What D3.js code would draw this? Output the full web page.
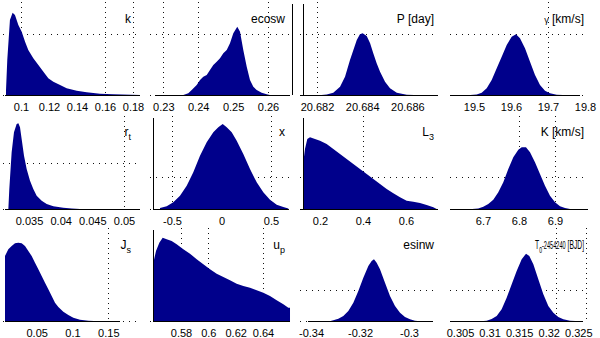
<!DOCTYPE html>
<html>
<head>
<meta charset="utf-8">
<script src="https://cdn.jsdelivr.net/npm/d3@7"></script>
<style>
  body { margin: 0; background: #fff; }
  svg { display: block; }
  text { font-family: "Liberation Sans", Arial, sans-serif; fill: #000; }
</style>
</head>
<body>
<svg id="chart" width="600" height="338"></svg>
<script>
// posterior histograms, [value, count] pairs (counts in arbitrary units)
const kHist = [[0.0893, 50], [0.0902, 350], [0.0921, 750], [0.0940, 823], [0.0957, 800], [0.0981, 700], [0.1005, 633], [0.1029, 533], [0.1052, 450], [0.1088, 367], [0.1124, 300], [0.1160, 233], [0.1195, 167], [0.1231, 133], [0.1279, 100], [0.1326, 67], [0.1398, 43], [0.1469, 27], [0.1564, 13], [0.1659, 7], [0.185, 0]];
const ecoswHist = [[0.23573, 0], [0.23716, 17], [0.23814, 50], [0.23957, 100], [0.24052, 150], [0.24146, 183], [0.24244, 200], [0.24338, 250], [0.24433, 300], [0.24530, 333], [0.24625, 367], [0.24719, 417], [0.24817, 450], [0.24911, 517], [0.25006, 617], [0.25120, 683], [0.25198, 633], [0.25292, 450], [0.25390, 283], [0.25484, 150], [0.25579, 83], [0.25676, 50], [0.25819, 23], [0.25963, 7], [0.2605, 0]];
const periodHist = [[20.6822, 0], [20.68243, 5], [20.68272, 23], [20.68302, 83], [20.68324, 183], [20.68346, 350], [20.68361, 450], [20.68376, 550], [20.68390, 607], [20.68402, 617], [20.68420, 590], [20.68435, 517], [20.68449, 417], [20.68464, 317], [20.68479, 233], [20.68501, 133], [20.68523, 67], [20.68553, 23], [20.68597, 3], [20.6863, 0]];
const gammaHist = [[19.49, 0], [19.5073, 5], [19.5208, 23], [19.5343, 67], [19.5478, 150], [19.5614, 267], [19.5749, 383], [19.5884, 500], [19.6019, 583], [19.6135, 607], [19.6243, 567], [19.6378, 467], [19.6514, 333], [19.6649, 200], [19.6784, 100], [19.6919, 43], [19.7054, 17], [19.7235, 3], [19.74, 0]];
const rtHist = [[0.03174, 0], [0.03189, 200], [0.03226, 567], [0.03263, 767], [0.03305, 850], [0.03332, 857], [0.03358, 817], [0.03384, 700], [0.03421, 533], [0.03463, 400], [0.03516, 283], [0.03568, 200], [0.03621, 133], [0.03700, 83], [0.03779, 50], [0.03884, 27], [0.04042, 13], [0.04174, 5], [0.04305, 0]];
const xHist = [[-0.6212, 10], [-0.5535, 27], [-0.4869, 67], [-0.4192, 133], [-0.3515, 233], [-0.2848, 367], [-0.2172, 533], [-0.1495, 667], [-0.0828, 767], [-0.0323, 817], [0.0121, 850], [0.0525, 817], [0.1030, 767], [0.1535, 683], [0.2202, 550], [0.2879, 400], [0.3556, 267], [0.4222, 167], [0.4899, 93], [0.5576, 43], [0.6242, 20], [0.6747, 5]];
const l3Hist = [[0.1223, 467], [0.1302, 600], [0.1409, 700], [0.1535, 717], [0.1767, 700], [0.2000, 683], [0.2310, 650], [0.2620, 600], [0.2930, 550], [0.3240, 500], [0.3550, 450], [0.3860, 400], [0.4171, 350], [0.4481, 300], [0.4791, 250], [0.5101, 200], [0.5411, 157], [0.5721, 117], [0.6031, 83], [0.6341, 73], [0.6651, 60], [0.6961, 40], [0.7271, 17], [0.7426, 0]];
const kAmpHist = [[6.67, 0], [6.6869, 5], [6.7008, 23], [6.7147, 50], [6.7286, 93], [6.7425, 167], [6.7564, 267], [6.7703, 400], [6.7842, 517], [6.7981, 593], [6.8075, 617], [6.8194, 617], [6.8306, 567], [6.8444, 467], [6.8583, 350], [6.8722, 233], [6.8861, 133], [6.9000, 67], [6.9139, 27], [6.9278, 10], [6.9417, 0]];
const jsHist = [[0.00573, 650], [0.01038, 717], [0.01504, 750], [0.01969, 777], [0.02434, 783], [0.02901, 777], [0.03366, 750], [0.03831, 700], [0.04297, 650], [0.04763, 583], [0.05228, 517], [0.05694, 450], [0.06159, 383], [0.06624, 317], [0.07091, 250], [0.07556, 183], [0.08021, 140], [0.08719, 93], [0.09418, 60], [0.10116, 33], [0.11047, 13], [0.12211, 3], [0.13, 0]];
const upHist = [[0.55976, 583], [0.56171, 700], [0.56414, 783], [0.56659, 833], [0.56951, 817], [0.57317, 800], [0.57683, 767], [0.58171, 717], [0.58659, 673], [0.59147, 617], [0.59634, 567], [0.60122, 517], [0.60610, 473], [0.61097, 440], [0.61585, 407], [0.62073, 373], [0.62561, 350], [0.63049, 333], [0.63537, 307], [0.64024, 283], [0.64512, 250], [0.65000, 207], [0.65488, 167], [0.65854, 133], [0.65976, 133]];
const esinwHist = [[-0.3320, 0], [-0.33089, 7], [-0.32884, 23], [-0.32680, 50], [-0.32476, 100], [-0.32272, 183], [-0.32068, 300], [-0.31864, 433], [-0.31660, 550], [-0.31524, 600], [-0.31429, 617], [-0.31320, 583], [-0.31184, 517], [-0.30980, 383], [-0.30776, 250], [-0.30571, 150], [-0.30367, 83], [-0.30163, 40], [-0.29959, 17], [-0.29755, 3], [-0.2965, 0]];
const t0Hist = [[0.3090, 0], [0.30951, 3], [0.31035, 20], [0.31120, 50], [0.31204, 117], [0.31289, 233], [0.31374, 367], [0.31458, 500], [0.31543, 617], [0.31616, 673], [0.31672, 650], [0.31740, 567], [0.31824, 417], [0.31909, 267], [0.31993, 150], [0.32078, 83], [0.32162, 40], [0.32247, 17], [0.32360, 3], [0.3245, 0]];

// tick labels
const kTicks = [0.1, 0.12, 0.14, 0.16, 0.18];
const ecoswTicks = [0.23, 0.24, 0.25, 0.26];
const periodTicks = [20.682, 20.684, 20.686];
const gammaTicks = [19.5, 19.6, 19.7, 19.8];
const rtTicks = [0.035, 0.04, 0.045, 0.05];
const xTicks = [-0.5, 0, 0.5];
const l3Ticks = [0.2, 0.4, 0.6];
const kAmpTicks = [6.7, 6.8, 6.9];
const jsTicks = [0.05, 0.1, 0.15];
const upTicks = [0.58, 0.6, 0.62, 0.64];
const esinwTicks = [-0.34, -0.32, -0.3];
const t0Ticks = [0.305, 0.31, 0.315, 0.32, 0.325];

const cols = [{l: 3, r: 140, tx: 131}, {l: 150, r: 289, tx: 285}, {l: 300, r: 438, tx: 434}, {l: 450, r: 588, tx: 584}];
const rows = [{top: 2, base: 95, ty: 23}, {top: 116, base: 209, ty: 136}, {top: 228, base: 321, ty: 249}];

const panels = [
  {hist: kHist, ticks: kTicks, grid: [0.1, 0.16, 0.18], level: 610, range: [0.0886, 0.185], dom: [0.1, 0.18], px: [21, 133], title: [["k"]]},
  {hist: ecoswHist, ticks: ecoswTicks, grid: [0.23, 0.24, 0.26], level: 610, range: [0.2276, 0.2663], dom: [0.23, 0.26], px: [163.3, 268], edge: "R", title: [["ecosw"]]},
  {hist: periodHist, ticks: periodTicks, grid: [20.682], level: 610, range: [20.68125, 20.68735], dom: [20.682, 20.686], px: [317, 407.4], edge: "L", title: [["P [day]"]]},
  {hist: gammaHist, ticks: gammaTicks, grid: [19.7], level: 610, range: [19.4351, 19.7865], dom: [19.5, 19.8], px: [474, 585], title: [["γ", "small"], [" [km/s]"]]},
  {hist: rtHist, ticks: rtTicks, grid: [0.05], level: 460, range: [0.03121, 0.05253], dom: [0.035, 0.05], px: [29, 124], title: [["r"], ["t", "sub"]]},
  {hist: xHist, ticks: xTicks, grid: [-0.5, 0.5], level: 320, range: [-0.692, 0.672], dom: [-0.5, 0.5], px: [172, 271], edge: "L", title: [["x"]]},
  {hist: l3Hist, ticks: l3Ticks, grid: [0.4], level: 320, range: [0.107, 0.749], dom: [0.2, 0.6], px: [320, 406], edge: "L", title: [["L"], ["3", "sub"]]},
  {hist: kAmpHist, ticks: kAmpTicks, grid: [6.8, 6.9], level: 320, range: [6.6083, 6.9917], dom: [6.8, 6.9], px: [519, 555], title: [["K [km/s]"]]},
  {hist: jsHist, ticks: jsTicks, grid: [0.15], level: null, range: [0.00573, 0.1663], dom: [0.05, 0.15], px: [36.7, 108.3], title: [["J"], ["s", "sub"]]},
  {hist: upHist, ticks: upTicks, grid: [0.58, 0.6, 0.64], level: null, range: [0.5595, 0.6598], dom: [0.58, 0.64], px: [181, 263], edge: "L", title: [["u"], ["p", "sub"]]},
  {hist: esinwHist, ticks: esinwTicks, grid: [], level: 310, range: [-0.3412, -0.2902], dom: [-0.34, -0.3], px: [311, 409], title: [["esinw"]]},
  {hist: t0Hist, ticks: t0Ticks, grid: [0.3212, 0.3263], level: 310, range: [0.3033, 0.3258], dom: [0.305, 0.325], px: [460, 578.3], title: [["T"], ["0", "sub"], ["-2454240", "num"], [" [BJD]"]], fit: 49}
];

const svg = d3.select("#chart");
const blue = "#00008b";

panels.forEach((p, i) => {
  const c = cols[i % 4], r = rows[Math.floor(i / 4)];
  const x = d3.scaleLinear().domain(p.dom).range(p.px);
  const y = d3.scaleLinear().domain([0, 950]).range([r.base, r.base - 95]);
  const g = svg.append("g");

  // dotted reference lines (behind the histogram)
  const dots = g.append("g").attr("stroke", "#111").attr("stroke-width", 1).attr("shape-rendering", "crispEdges");
  dots.selectAll(".vg").data(p.grid).join("line")
      .attr("x1", d => Math.round(x(d)) + 0.5).attr("x2", d => Math.round(x(d)) + 0.5)
      .attr("y1", r.top).attr("y2", r.base)
      .attr("stroke-dasharray", "1,4");
  const levels = [0].concat(p.level == null ? [] : [p.level]);
  dots.selectAll(".hg").data(levels).join("line")
      .attr("x1", c.l).attr("x2", c.r)
      .attr("y1", d => Math.round(y(d)) + 0.5).attr("y2", d => Math.round(y(d)) + 0.5)
      .attr("stroke-dasharray", "1,5");

  // histogram
  const area = d3.area()
      .x(d => x(d[0]))
      .y0(y(0))
      .y1(d => y(d[1]));
  g.append("path").datum(p.hist).attr("d", area).attr("fill", blue);

  // baseline over the histogram range
  g.append("line")
      .attr("x1", x(p.range[0])).attr("x2", x(p.range[1]))
      .attr("y1", r.base + 0.5).attr("y2", r.base + 0.5)
      .attr("stroke", "#000").attr("shape-rendering", "crispEdges");

  if (p.edge) {
    const ex = p.edge === "L" ? c.l + 3 : c.r + 3;
    g.append("line")
        .attr("x1", ex).attr("x2", ex)
        .attr("y1", r.top + 2).attr("y2", r.base)
        .attr("stroke", "#000").attr("shape-rendering", "crispEdges");
  }

  // tick labels
  g.append("g")
      .attr("transform", `translate(0,${r.base})`)
      .call(d3.axisBottom(x).tickValues(p.ticks).tickSize(0).tickPadding(8).tickFormat(d => String(d)))
      .call(a => a.select(".domain").remove())
      .selectAll("text")
      .attr("font-size", 11)
      .attr("font-family", "Liberation Sans, Arial, sans-serif")
      .attr("fill", "#000");

  // title
  const t = g.append("text")
      .attr("transform", `translate(${c.tx},${r.ty})`)
      .attr("text-anchor", "end")
      .attr("font-size", 12);
  let shift = 0;
  p.title.forEach(([s, kind]) => {
    const ts = t.append("tspan").text(s);
    if (kind === "sub") {
      ts.attr("font-size", 9).attr("dy", 4 - shift);
      shift = 4;
    } else {
      if (shift) ts.attr("dy", -shift);
      shift = 0;
      if (kind === "small") ts.attr("font-size", 9);
      if (kind === "num") ts.attr("font-size", 10);
    }
  });
  if (p.fit) {
    // squeeze the long label horizontally to the width it has in the original
    const len = t.node().getComputedTextLength();
    t.attr("transform", `translate(${c.tx},${r.ty}) scale(${p.fit / len},1)`);
  }
});
</script>
</body>
</html>
